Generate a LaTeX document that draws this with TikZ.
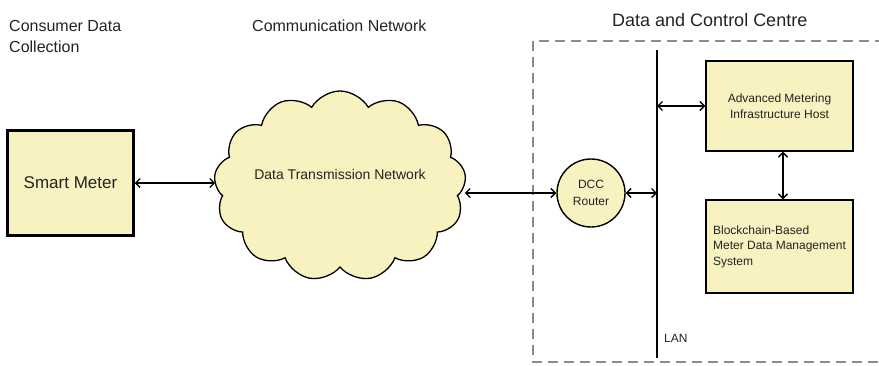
\documentclass[tikz,border=0pt]{standalone}
\usepackage{fontspec}
\setmainfont{Liberation Sans}
\usetikzlibrary{arrows.meta,shapes.symbols}
\definecolor{boxfill}{RGB}{247,242,192}
\definecolor{txt}{RGB}{35,35,35}
\definecolor{dashgray}{RGB}{140,140,140}
\tikzset{
  heading/.style={anchor=north west,inner sep=0pt,text=txt,align=left,font=\fontsize{16}{21}\selectfont},
  boxnode/.style={draw=black,fill=boxfill,line width=1.4pt,text=txt,inner sep=0pt,font=\fontsize{12}{15.5}\selectfont},
  link/.style={line width=1.3pt,{Straight Barb[length=4.5pt,width=9pt]}-{Straight Barb[length=4.5pt,width=9pt]}},
}
\begin{document}
\begin{tikzpicture}[x=1pt,y=-1pt]
\useasboundingbox (0,0) rectangle (879,365);
% headings
\node[heading] (hcons) at (9,20) {Consumer Data\\Collection};
\node[heading] (hcomm) at (252,20) {Communication Network};
\node[heading,font=\fontsize{18}{22}\selectfont] (hdcc) at (612,13) {Data and Control Centre};
% dashed enclosure
\draw[dashgray,line width=1.2pt,dash pattern=on 10pt off 6pt] (885,41) -- (533,41) -- (533,362) -- (885,362);
% nodes
\node[boxnode,line width=2.5pt,minimum width=126pt,minimum height=105pt,font=\fontsize{17}{20}\selectfont] (sm) at (70.5,183) {Smart Meter};
\node[cloud,cloud puffs=13,cloud puff arc=120,cloud ignores aspect,draw=black,fill=boxfill,line width=1.3pt,minimum width=252pt,minimum height=190pt,inner sep=0pt,text=txt,font=\fontsize{14}{16}\selectfont] (cloud) at (340,186) {\raisebox{7pt}[0pt][0pt]{Data Transmission Network}};
\node[circle,draw=black,fill=boxfill,line width=1.4pt,minimum size=68pt,inner sep=0pt,text=txt,align=center,font=\fontsize{12}{16.5}\selectfont] (router) at (591,193) {DCC\\Router};
\node[boxnode,minimum width=147pt,minimum height=90pt,align=center] (ami) at (779.5,106) {Advanced Metering\\Infrastructure Host};
\node[boxnode,minimum width=147pt,minimum height=93pt,align=left] (bc) at (779.5,246.5) {Blockchain-Based\\Meter Data Management\\System};
% LAN
\coordinate (lantop) at (657,50);
\coordinate (lanbot) at (657,358);
\draw[line width=1.4pt] (lantop) -- (lanbot);
\node[anchor=north west,inner sep=0pt,text=txt,font=\fontsize{12}{14}\selectfont] (lan) at (664,334) {LAN};
% connectors
\draw[link] (sm.east) -- (sm.east -| cloud.west);
\draw[link] (router.west -| cloud.east) -- (router.west);
\draw[link] (router.east) -- (router.east -| lantop);
\draw[link] (ami.west -| lantop) -- (ami.west);
\draw[link] ([xshift=3.5pt]ami.south) -- ([xshift=3.5pt]bc.north);
\end{tikzpicture}
\end{document}
